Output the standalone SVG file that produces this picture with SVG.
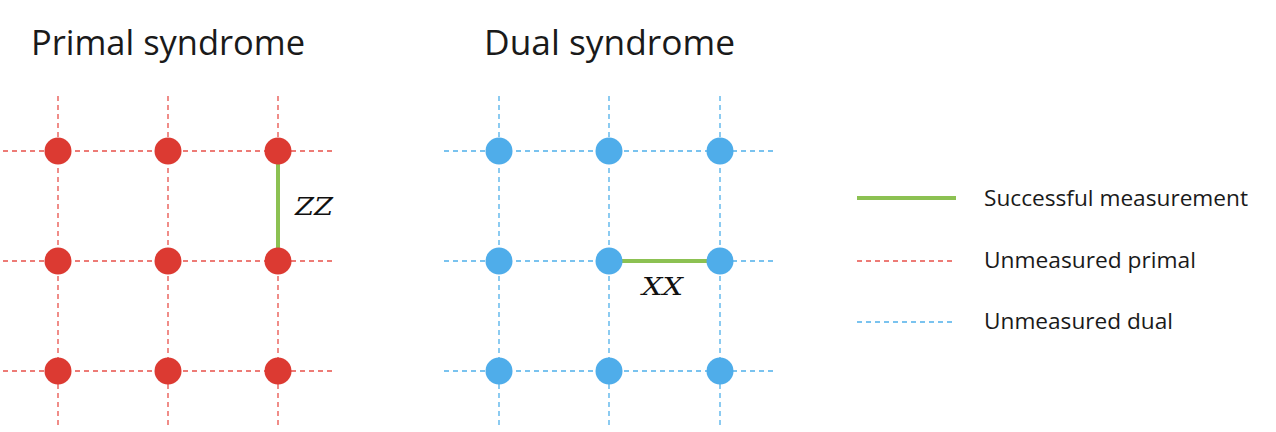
<svg xmlns="http://www.w3.org/2000/svg" width="1276" height="432" viewBox="0 0 1276 432">
<style>
.title{font-family:"Open Sans","Liberation Sans",sans-serif;font-size:35px;fill:#1a1a1a}
.leg{font-family:"Open Sans","Liberation Sans",sans-serif;font-size:22.5px;fill:#1a1a1a}
.math{font-family:"DejaVu Serif","Liberation Serif",serif;font-style:italic;font-size:25px;fill:#111}
.pd{stroke:#e8504a;stroke-width:1.3;stroke-dasharray:5 4;fill:none}
.dd{stroke:#4fb0ea;stroke-width:1.3;stroke-dasharray:5 4;fill:none}
.ok{stroke:#8cc152;stroke-width:4;fill:none}
.pn{fill:#dc3a32}
.dn{fill:#4fadea}
</style>
<rect width="1276" height="432" fill="#fff"/>
<text class="title" x="31" y="55" textLength="274" lengthAdjust="spacingAndGlyphs">Primal syndrome</text>
<text class="title" x="484" y="55" textLength="251" lengthAdjust="spacingAndGlyphs">Dual syndrome</text>
<g id="connectors">
<path class="pd" d="M3 151H333M3 261H333M3 371H333M58 96V425M168 96V425M278 96V425"/>
<path class="dd" d="M444 151H775M444 261H775M444 371H775M499 96V425M609 96V425M720 96V425"/>
<path class="ok" d="M278 151V261"/>
<path class="ok" d="M609 261H720"/>
</g>
<g id="primal-nodes">
<circle id="p11" class="pn" cx="58" cy="151" r="13.5"/>
<circle id="p12" class="pn" cx="168" cy="151" r="13.5"/>
<circle id="p13" class="pn" cx="278" cy="151" r="13.5"/>
<circle id="p21" class="pn" cx="58" cy="261" r="13.5"/>
<circle id="p22" class="pn" cx="168" cy="261" r="13.5"/>
<circle id="p23" class="pn" cx="278" cy="261" r="13.5"/>
<circle id="p31" class="pn" cx="58" cy="371" r="13.5"/>
<circle id="p32" class="pn" cx="168" cy="371" r="13.5"/>
<circle id="p33" class="pn" cx="278" cy="371" r="13.5"/>
</g>
<g id="dual-nodes">
<circle id="d11" class="dn" cx="499" cy="151" r="13.5"/>
<circle id="d12" class="dn" cx="609" cy="151" r="13.5"/>
<circle id="d13" class="dn" cx="720" cy="151" r="13.5"/>
<circle id="d21" class="dn" cx="499" cy="261" r="13.5"/>
<circle id="d22" class="dn" cx="609" cy="261" r="13.5"/>
<circle id="d23" class="dn" cx="720" cy="261" r="13.5"/>
<circle id="d31" class="dn" cx="499" cy="371" r="13.5"/>
<circle id="d32" class="dn" cx="609" cy="371" r="13.5"/>
<circle id="d33" class="dn" cx="720" cy="371" r="13.5"/>
</g>
<text class="math" x="295" y="215" textLength="38" lengthAdjust="spacingAndGlyphs">ZZ</text>
<text class="math" x="642" y="295" textLength="41" lengthAdjust="spacingAndGlyphs">XX</text>
<g id="legend">
<path class="ok" d="M857 198H956"/>
<text class="leg" x="984" y="206" textLength="264" lengthAdjust="spacingAndGlyphs">Successful measurement</text>
<path class="pd" d="M857 261H956"/>
<text class="leg" x="984" y="268" textLength="212" lengthAdjust="spacingAndGlyphs">Unmeasured primal</text>
<path class="dd" d="M857 322H956"/>
<text class="leg" x="984" y="329" textLength="189" lengthAdjust="spacingAndGlyphs">Unmeasured dual</text>
</g>
</svg>
